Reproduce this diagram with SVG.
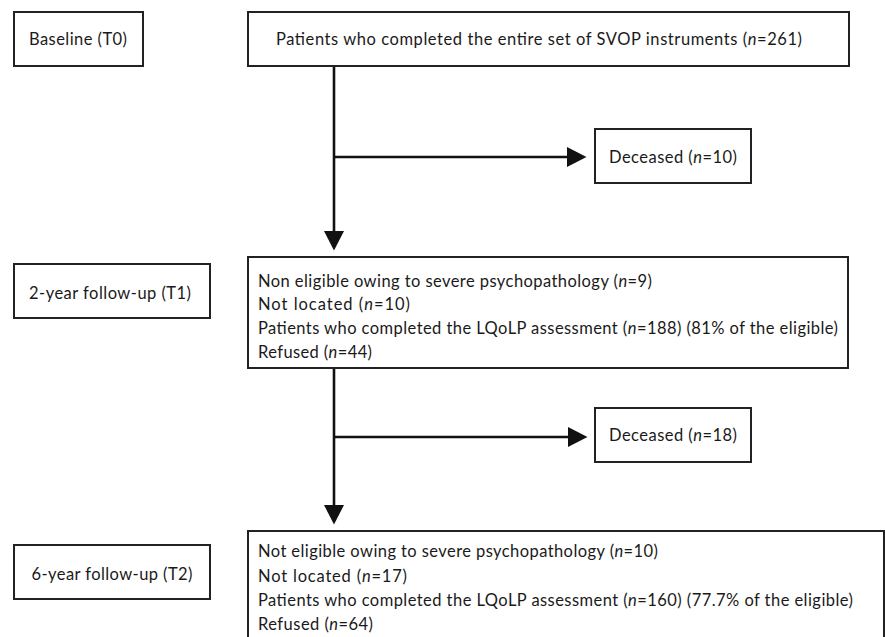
<svg xmlns="http://www.w3.org/2000/svg" width="885" height="637" viewBox="0 0 885 637">
<style>
.box{fill:#fff;stroke:#222;stroke-width:2}
.t{font-family:Lato,"Liberation Sans",sans-serif;font-size:16.5px;fill:#1a1a1a}
.c{text-anchor:middle}
.i{font-style:italic}
.ln{fill:none;stroke:#111;stroke-width:2.6}
</style>
<defs>
<marker id="ah" markerUnits="userSpaceOnUse" markerWidth="20" markerHeight="22" viewBox="0 -10 19 20" refX="0" refY="0" orient="auto">
<path d="M0,-9.5 L18.5,0 L0,9.5 Z" fill="#111"/>
</marker>
</defs>
<rect width="885" height="637" fill="#fff"/>
<g id="connectors">
<path class="ln" d="M334,66 V231" marker-end="url(#ah)"/>
<path class="ln" d="M334,157 H567" marker-end="url(#ah)"/>
<path class="ln" d="M334,368 V505" marker-end="url(#ah)"/>
<path class="ln" d="M334,437 H568" marker-end="url(#ah)"/>
</g>
<g id="baseline">
<rect class="box" x="14" y="12" width="129" height="54"/>
<text class="t c" x="78" y="45" textLength="98">Baseline (T0)</text>
</g>
<g id="t0">
<rect class="box" x="248" y="12" width="601" height="54"/>
<text class="t c" x="539" y="45" textLength="526">Patients who completed the entire set of SVOP instruments (<tspan class="i">n</tspan>=261)</text>
</g>
<g id="deceased1">
<rect class="box" x="595" y="129" width="156" height="54"/>
<text class="t c" x="673" y="163" textLength="128">Deceased (<tspan class="i">n</tspan>=10)</text>
</g>
<g id="followup1">
<rect class="box" x="14" y="264" width="196" height="54"/>
<text class="t c" x="110" y="299" textLength="162">2-year follow-up (T1)</text>
</g>
<g id="t1">
<rect class="box" x="248" y="257" width="600" height="111"/>
<text class="t" x="258" y="287" textLength="394">Non eligible owing to severe psychopathology (<tspan class="i">n</tspan>=9)</text>
<text class="t" x="258" y="310" textLength="152">Not located (<tspan class="i">n</tspan>=10)</text>
<text class="t" x="258" y="334" textLength="580">Patients who completed the LQoLP assessment (<tspan class="i">n</tspan>=188) (81% of the eligible)</text>
<text class="t" x="258" y="358" textLength="114">Refused (<tspan class="i">n</tspan>=44)</text>
</g>
<g id="deceased2">
<rect class="box" x="595" y="408" width="156" height="54"/>
<text class="t c" x="673" y="441" textLength="128">Deceased (<tspan class="i">n</tspan>=18)</text>
</g>
<g id="followup2">
<rect class="box" x="14" y="545" width="196" height="54"/>
<text class="t c" x="112" y="580" textLength="161">6-year follow-up (T2)</text>
</g>
<g id="t2">
<rect class="box" x="248" y="531" width="636" height="130"/>
<text class="t" x="258" y="557" textLength="400">Not eligible owing to severe psychopathology (<tspan class="i">n</tspan>=10)</text>
<text class="t" x="258" y="582" textLength="149">Not located (<tspan class="i">n</tspan>=17)</text>
<text class="t" x="258" y="606" textLength="595">Patients who completed the LQoLP assessment (<tspan class="i">n</tspan>=160) (77.7% of the eligible)</text>
<text class="t" x="258" y="630" textLength="115">Refused (<tspan class="i">n</tspan>=64)</text>
</g>
</svg>
